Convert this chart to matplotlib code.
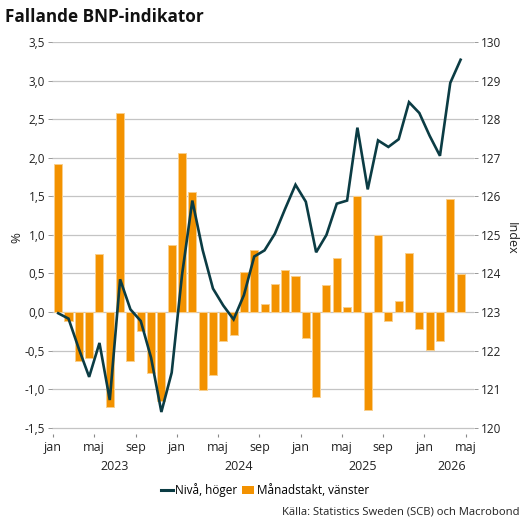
import matplotlib
matplotlib.use("Agg")
import matplotlib.pyplot as plt
import matplotlib.ticker as mticker
import matplotlib.transforms as mtransforms
from matplotlib.lines import Line2D
from matplotlib.patches import Patch
import numpy as np

plt.rcParams["font.family"] = ["Open Sans", "DejaVu Sans"]

# monthly data, jan 2023 .. apr 2026
monthly_change = [
    1.92, -0.11, -0.64, -0.59, 0.75, -1.23, 2.58, -0.63, -0.24, -0.79, -1.15, 0.87,
    2.06, 1.56, -1.01, -0.82, -0.37, -0.30, 0.52, 0.81, 0.11, 0.36, 0.54, 0.47,
    -0.34, -1.10, 0.35, 0.70, 0.07, 1.50, -1.27, 1.00, -0.12, 0.14, 0.76, -0.22,
    -0.49, -0.38, 1.47, 0.49,
]
level = [
    122.97, 122.83, 122.05, 121.32, 122.20, 120.72, 123.85, 123.07, 122.77, 121.82, 120.41, 121.43,
    123.96, 125.89, 124.61, 123.61, 123.17, 122.81, 123.44, 124.44, 124.60, 125.03, 125.68, 126.30,
    125.86, 124.55, 125.00, 125.81, 125.89, 127.78, 126.18, 127.45, 127.28, 127.48, 128.44, 128.16,
    127.57, 127.05, 128.94, 129.54,
]
month_ticks = ["jan", "maj", "sep"] * 3 + ["jan", "maj"]
years = ["2023", "2024", "2025", "2026"]
year_pos = [6, 18, 30, 38.6]

orange = "#f39200"
teal = "#0b3c44"
grid_c = "#c4c4c4"
text_c = "#222222"

fig = plt.figure(figsize=(5.3, 5.3), dpi=100)
ax = fig.add_axes([52 / 530, (530 - 434) / 530, (474 - 52) / 530, (434 - 42) / 530])

x = np.arange(len(monthly_change)) + 0.5
ax.bar(x, monthly_change, width=0.78, color=orange, edgecolor="#f9cf8c",
       linewidth=0.7, zorder=2)

ax.set_xlim(-0.1, 40.8)
ax.set_ylim(-1.58, 3.5)
ax.set_yticks(np.arange(-1.5, 3.51, 0.5))
ax.yaxis.set_major_formatter(mticker.FuncFormatter(lambda v, p: f"{v:.1f}".replace(".", ",")))
ax.grid(axis="y", color=grid_c, linewidth=0.9, zorder=0)
ax.set_axisbelow(True)
for s in ax.spines.values():
    s.set_visible(False)
ax.tick_params(axis="y", length=3, width=0.6, color="#888888", labelsize=8.5, pad=2,
               labelcolor=text_c)
ax.set_xticks(np.arange(0, 41, 4))
ax.set_xticklabels(month_ticks)
ax.tick_params(axis="x", length=2, width=0.8, color="#888888", labelsize=9, pad=3,
               labelcolor=text_c)
ax.set_ylabel("%", fontsize=9.5, labelpad=1, color=text_c)

trans = mtransforms.blended_transform_factory(ax.transData, fig.transFigure)
for yr, pos in zip(years, year_pos):
    fig.text(pos, (530 - 466) / 530, yr, transform=trans, ha="center", va="center",
             fontsize=9, color=text_c)

ax2 = ax.twinx()
ax2.plot(x, level, color=teal, linewidth=1.9, zorder=3, solid_joinstyle="miter")
ax2.set_ylim(123 + 2 * -1.58, 130)
ax2.set_yticks(np.arange(120, 130.1, 1))
for s in ax2.spines.values():
    s.set_visible(False)
ax2.tick_params(axis="y", length=3, width=0.6, color="#888888", labelsize=8.5, pad=2,
                labelcolor=text_c)
ax2.set_ylabel("Index", fontsize=9, rotation=270, labelpad=12, color=text_c)

fig.text(5 / 530, 1 - 17 / 530, "Fallande BNP-indikator", fontsize=12.3,
         fontweight="bold", ha="left", va="center", color="#111111")

handles = [
    Line2D([0], [0], color=teal, linewidth=2.2),
    Patch(facecolor=orange, edgecolor="none"),
]
fig.legend(handles, ["Nivå, höger", "Månadstakt, vänster"], loc="center",
           bbox_to_anchor=(265 / 530, 1 - 490 / 530), ncol=2, frameon=False,
           fontsize=8.5, handlelength=1.0, handleheight=0.7, handletextpad=0.2,
           columnspacing=0.4, borderpad=0.1)

fig.text(520 / 530, 1 - 512 / 530, "Källa: Statistics Sweden (SCB) och Macrobond",
         fontsize=8.1, ha="right", va="center", color=text_c)

fig.savefig("out.png", dpi=100)
